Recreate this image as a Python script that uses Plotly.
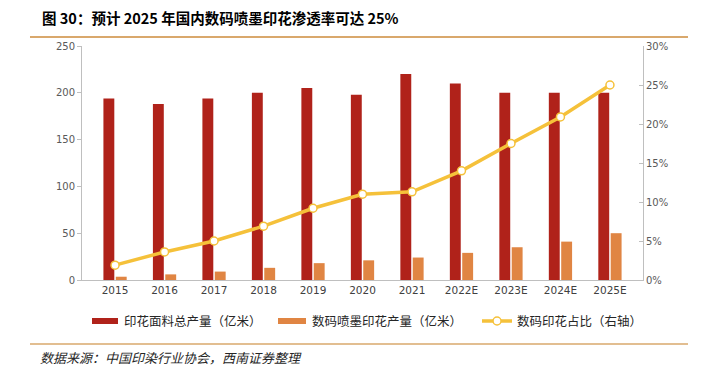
import plotly.graph_objects as go

years = ["2015", "2016", "2017", "2018", "2019", "2020", "2021", "2022E", "2023E", "2024E", "2025E"]
total_output = [194, 188, 194, 200, 205, 198, 220, 210, 200, 200, 200]
digital_output = [3.5, 6, 9, 13, 18, 21, 24, 29, 35, 41, 50]
digital_share = [0.019, 0.036, 0.050, 0.069, 0.092, 0.110, 0.113, 0.140, 0.175, 0.209, 0.25]

title_text = "图 30：预计 2025 年国内数码喷墨印花渗透率可达 25%"
source_text = "数据来源：中国印染行业协会，西南证券整理"
names = ["印花面料总产量（亿米）", "数码喷墨印花产量（亿米）", "数码印花占比（右轴）"]

RED = "#B0221A"
ORANGE = "#E08543"
YELLOW = "#F5C13A"
TAN = "#D9A86C"
CJK = "Noto Sans CJK SC"
YTICKF = dict(family="DejaVu Sans", size=10, color="#595959")
XTICKF = dict(family="DejaVu Sans", size=10.5, color="#404040")

fig = go.Figure()
fig.add_trace(go.Bar(x=years, y=total_output, name=names[0], marker=dict(color=RED, line=dict(width=0))))
fig.add_trace(go.Bar(x=years, y=digital_output, name=names[1], marker=dict(color=ORANGE, line=dict(width=0))))
fig.add_trace(go.Scatter(x=years, y=digital_share, name=names[2], yaxis="y2", mode="lines+markers",
                         line=dict(color=YELLOW, width=3.5),
                         marker=dict(symbol="circle", size=8, color="white", line=dict(color=YELLOW, width=1.5))))

fig.update_layout(
    width=694, height=365,
    margin=dict(l=74, r=59, t=38, b=93),
    paper_bgcolor="white", plot_bgcolor="white",
    barmode="group", bargap=0.5, bargroupgap=0.12,
    showlegend=False,
    xaxis=dict(showline=True, linecolor="#BFBFBF", linewidth=1, ticks="", tickfont=XTICKF,
               showgrid=False, zeroline=False, automargin=False),
    yaxis=dict(range=[0, 250], dtick=50, showline=True, linecolor="#BFBFBF", linewidth=1,
               ticks="outside", ticklen=4, tickcolor="#BFBFBF", tickfont=YTICKF,
               showgrid=False, zeroline=False, automargin=False),
    yaxis2=dict(range=[0, 0.30], dtick=0.05, tickformat=".0%", overlaying="y", side="right",
                showline=True, linecolor="#BFBFBF", linewidth=1, ticks="inside", ticklen=4,
                tickcolor="#BFBFBF", tickfont=YTICKF, showgrid=False, zeroline=False, automargin=False),
    font=dict(family=CJK),
)

# title and rules
fig.add_annotation(text="<b>" + title_text + "</b>", xref="paper", yref="paper", x=-0.0749, y=1.1197,
                   xanchor="left", yanchor="middle", showarrow=False,
                   font=dict(family=CJK, size=14.5, color="#000000"))
fig.add_shape(type="line", xref="paper", yref="paper", x0=-0.0927, x1=1.0802, y0=1.0385, y1=1.0385,
              line=dict(color=TAN, width=2))
fig.add_shape(type="line", xref="paper", yref="paper", x0=-0.0927, x1=1.0802, y0=-0.2735, y1=-0.2735,
              line=dict(color=TAN, width=1.5))
fig.add_annotation(text="<i>" + source_text + "</i>", xref="paper", yref="paper", x=-0.0784, y=-0.3333,
                   xanchor="left", yanchor="middle", showarrow=False,
                   font=dict(family=CJK, size=13, color="#262626"))

# manual legend
LY = -0.1752
LEGF = dict(family=CJK, size=12.5, color="#262626")
fig.add_shape(type="rect", xref="paper", yref="paper", x0=0.0178, x1=0.0642, y0=LY - 0.0128, y1=LY + 0.0128,
              fillcolor=RED, line=dict(width=0))
fig.add_annotation(text=names[0], xref="paper", yref="paper", x=0.0713, y=LY, xanchor="left", yanchor="middle",
                   showarrow=False, font=LEGF)
fig.add_shape(type="rect", xref="paper", yref="paper", x0=0.3494, x1=0.3993, y0=LY - 0.0128, y1=LY + 0.0128,
              fillcolor=ORANGE, line=dict(width=0))
fig.add_annotation(text=names[1], xref="paper", yref="paper", x=0.4064, y=LY, xanchor="left", yanchor="middle",
                   showarrow=False, font=LEGF)
fig.add_shape(type="line", xref="paper", yref="paper", x0=0.713, x1=0.7665, y0=LY, y1=LY,
              line=dict(color=YELLOW, width=3.5))
fig.add_shape(type="circle", xref="paper", yref="paper", xsizemode="pixel", ysizemode="pixel",
              xanchor=0.7398, yanchor=LY, x0=-4, x1=4, y0=-4, y1=4,
              fillcolor="white", line=dict(color=YELLOW, width=1.5))
fig.add_annotation(text=names[2], xref="paper", yref="paper", x=0.7718, y=LY, xanchor="left", yanchor="middle",
                   showarrow=False, font=LEGF)

fig.write_html("out.html")
